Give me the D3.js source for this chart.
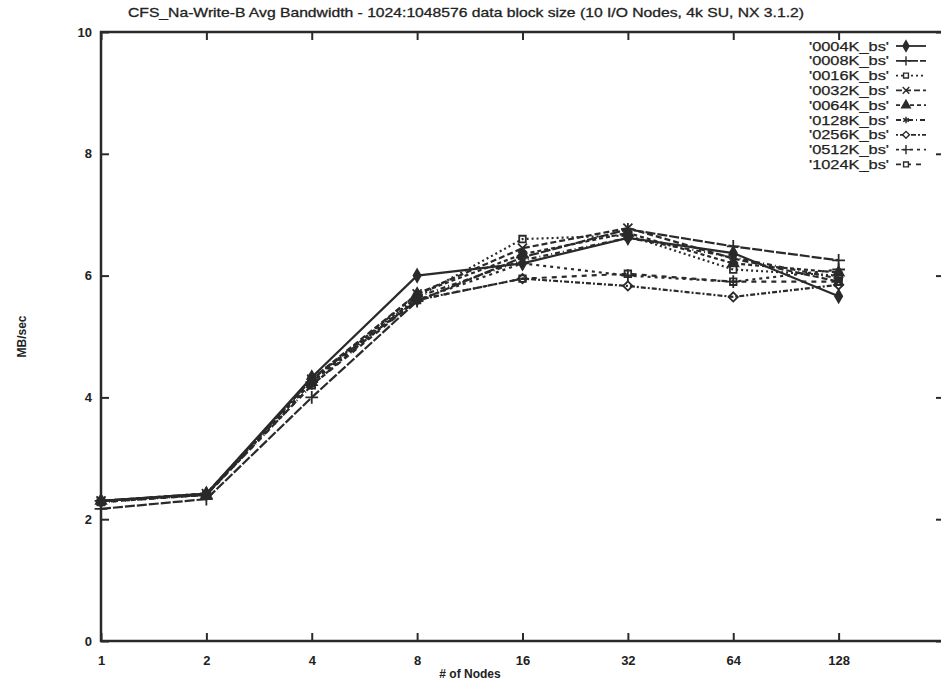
<!DOCTYPE html>
<html>
<head>
<meta charset="utf-8">
<script src="https://cdn.jsdelivr.net/npm/d3@7"></script>
<style>
  body { margin: 0; background: #fff; }
  svg { display: block; font-family: "Liberation Sans", Arial, sans-serif; }
  .tick text { font-size: 13px; font-weight: bold; fill: #222; }
</style>
</head>
<body>
<div id="chart"></div>
<script>
// chart data
var nodes = [1, 2, 4, 8, 16, 32, 64, 128];
var seriesNames = ["'0004K_bs'", "'0008K_bs'", "'0016K_bs'", "'0032K_bs'", "'0064K_bs'",
                   "'0128K_bs'", "'0256K_bs'", "'0512K_bs'", "'1024K_bs'"];
var bw0004 = [2.30, 2.42, 4.33, 6.00, 6.20, 6.62, 6.37, 5.66];
var bw0008 = [2.17, 2.33, 4.00, 5.58, 6.30, 6.76, 6.48, 6.25];
var bw0016 = [2.30, 2.40, 4.30, 5.65, 6.60, 6.66, 6.10, 6.00];
var bw0032 = [2.30, 2.42, 4.30, 5.70, 6.45, 6.78, 6.28, 5.90];
var bw0064 = [2.30, 2.40, 4.25, 5.70, 6.35, 6.70, 6.20, 6.05];
var bw0128 = [2.28, 2.40, 4.20, 5.65, 6.25, 6.62, 6.30, 5.95];
var bw0256 = [2.30, 2.40, 4.30, 5.60, 5.95, 5.83, 5.65, 5.85];
var bw0512 = [2.30, 2.42, 4.25, 5.60, 6.20, 6.00, 5.90, 6.10];
var bw1024 = [2.28, 2.40, 4.20, 5.60, 5.95, 6.03, 5.90, 5.90];
var yTicks = [0, 2, 4, 6, 8, 10];

var allSeries = [bw0004, bw0008, bw0016, bw0032, bw0064, bw0128, bw0256, bw0512, bw1024];

// line/marker styles, gnuplot mono postscript look
var dashes = ["", "10,2", "2,3", "6,3", "4,3", "5,3,1,3", "2,2,5,2", "3,4", "5,5"];
var symbols = [
  {type: d3.symbolDiamond, fill: true},
  {type: d3.symbolPlus || d3.symbolCross, fill: false},
  {type: d3.symbolSquare2 || d3.symbolSquare, fill: false},
  {type: d3.symbolTimes || d3.symbolCross, fill: false},
  {type: d3.symbolTriangle, fill: true},
  {type: d3.symbolAsterisk || d3.symbolStar, fill: false},
  {type: d3.symbolDiamond2 || d3.symbolDiamond, fill: false},
  {type: d3.symbolPlus || d3.symbolCross, fill: false},
  {type: d3.symbolSquare2 || d3.symbolSquare, fill: false}
];

var width = 941, height = 684;
var plotL = 101, plotR = 944, plotT = 32, plotB = 641;
var ink = "#2a2a2a";

var svg = d3.select("#chart").append("svg").attr("width", width).attr("height", height);

var x = d3.scaleLog().base(2).domain([1, 256]).range([plotL, plotR]);
var y = d3.scaleLinear().domain([0, 10]).range([plotB, plotT]);

// title
svg.append("text").attr("x", 466).attr("y", 17).attr("text-anchor", "middle")
  .attr("font-size", 13).attr("fill", "#222").attr("stroke", "#222").attr("stroke-width", 0.3)
  .attr("textLength", 676).attr("lengthAdjust", "spacingAndGlyphs")
  .text("CFS_Na-Write-B Avg Bandwidth - 1024:1048576 data block size (10 I/O Nodes, 4k SU, NX 3.1.2)");

// axes (ticks inward, mirrored)
var xAxis = svg.append("g").attr("transform", "translate(0," + plotB + ")")
  .call(d3.axisTop(x).tickValues(nodes).tickFormat(d3.format("d")).tickSize(8).tickPadding(-32));
xAxis.select(".domain").remove();
xAxis.selectAll(".tick line").attr("stroke", ink).attr("stroke-width", 2);

svg.append("g").attr("transform", "translate(0," + plotT + ")")
  .call(d3.axisBottom(x).tickValues(nodes).tickFormat("").tickSize(8))
  .call(function (g) { g.select(".domain").remove(); g.selectAll("line").attr("stroke", ink).attr("stroke-width", 2); });

var yAxis = svg.append("g").attr("transform", "translate(" + plotL + ",0)")
  .call(d3.axisRight(y).tickValues(yTicks).tickSize(8));
yAxis.select(".domain").remove();
yAxis.selectAll(".tick line").attr("stroke", ink).attr("stroke-width", 2);
yAxis.selectAll(".tick text").attr("text-anchor", "end").attr("x", -9);

svg.append("g").attr("transform", "translate(" + plotR + ",0)")
  .call(d3.axisLeft(y).tickValues(yTicks).tickFormat("").tickSize(8))
  .call(function (g) { g.select(".domain").remove(); g.selectAll("line").attr("stroke", ink).attr("stroke-width", 2); });

// frame
svg.append("rect").attr("x", plotL).attr("y", plotT).attr("width", plotR - plotL).attr("height", plotB - plotT)
  .attr("fill", "none").attr("stroke", ink).attr("stroke-width", 2.5);

// axis titles
svg.append("text").attr("transform", "translate(26," + ((plotT + plotB) / 2) + ") rotate(-90)")
  .attr("text-anchor", "middle").attr("font-size", 12).attr("font-weight", "bold").attr("fill", "#222")
  .text("MB/sec");
svg.append("text").attr("x", 470).attr("y", 678).attr("text-anchor", "middle")
  .attr("font-size", 12).attr("font-weight", "bold").attr("fill", "#222").text("# of Nodes");

// series
var line = d3.line().x(function (d, i) { return x(nodes[i]); }).y(function (d) { return y(d); });

allSeries.forEach(function (vals, k) {
  var g = svg.append("g");
  g.append("path").datum(vals).attr("d", line).attr("fill", "none")
    .attr("stroke", ink).attr("stroke-width", 2.2).attr("stroke-dasharray", dashes[k]);
  var sym = d3.symbol().type(symbols[k].type).size(symbols[k].fill ? 45 : 55);
  g.selectAll("path.pt").data(vals).enter().append("path").attr("class", "pt")
    .attr("transform", function (d, i) { return "translate(" + x(nodes[i]) + "," + y(d) + ")"; })
    .attr("d", sym)
    .attr("fill", symbols[k].fill ? ink : "none")
    .attr("stroke", ink).attr("stroke-width", 1.8);
});

// legend
var legend = svg.append("g");
seriesNames.forEach(function (name, k) {
  var ly = 46 + k * 14.8;
  legend.append("text").attr("x", 889).attr("y", ly + 4.5).attr("text-anchor", "end")
    .attr("font-size", 13).attr("fill", "#222").attr("stroke", "#222").attr("stroke-width", 0.25)
    .attr("textLength", 80).attr("lengthAdjust", "spacingAndGlyphs").text(name);
  legend.append("line").attr("x1", 896).attr("x2", 926).attr("y1", ly).attr("y2", ly)
    .attr("stroke", ink).attr("stroke-width", 1.8).attr("stroke-dasharray", dashes[k]);
  legend.append("path").attr("transform", "translate(906," + ly + ")")
    .attr("d", d3.symbol().type(symbols[k].type).size(symbols[k].fill ? 32 : 30))
    .attr("fill", symbols[k].fill ? ink : "#fff")
    .attr("stroke", ink).attr("stroke-width", 1.4);
});
</script>
</body>
</html>
